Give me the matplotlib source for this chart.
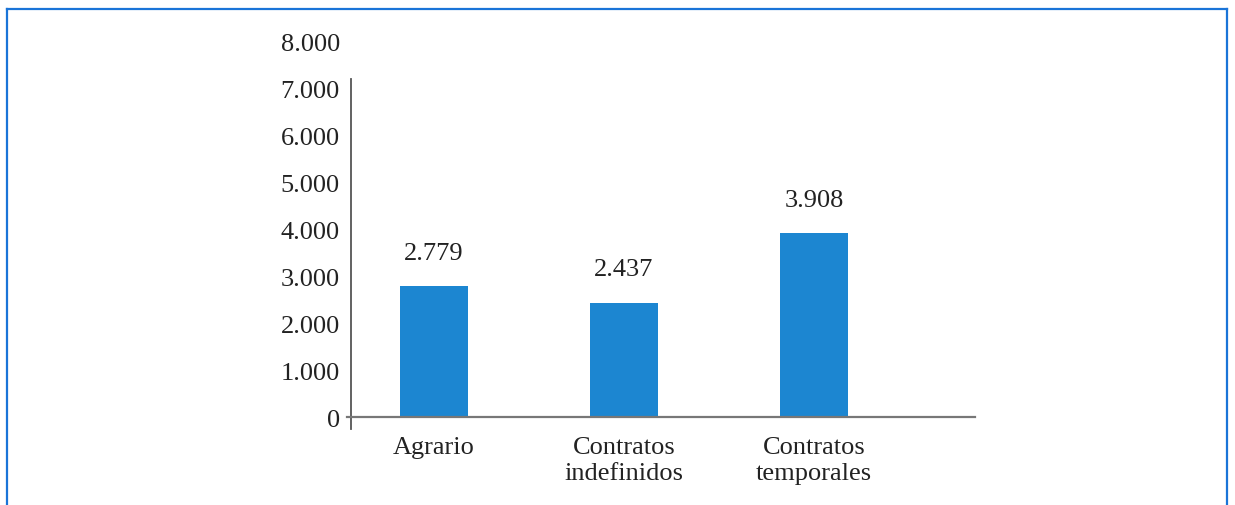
import matplotlib
matplotlib.use("Agg")
import matplotlib.pyplot as plt
from matplotlib.lines import Line2D

categories = ["Agrario", "Contratos\nindefinidos", "Contratos\ntemporales"]
values = [2779, 2437, 3908]
value_labels = ["2.779", "2.437", "3.908"]
yticks = [0, 1000, 2000, 3000, 4000, 5000, 6000, 7000, 8000]
ytick_labels = ["0", "1.000", "2.000", "3.000", "4.000", "5.000", "6.000", "7.000", "8.000"]

plt.rcParams['font.family'] = ['Liberation Serif', 'DejaVu Serif']
FS = 19

fig = plt.figure(figsize=(12.35, 5.06), dpi=100)
ax = fig.add_axes([0.2729, 0.146, 0.523, 0.780])

x = list(range(len(categories)))
ax.bar(x, values, width=0.36, color='#1c86d1', zorder=2)
for xi, v, lab in zip(x, values, value_labels):
    ax.annotate(lab, (xi, v), xytext=(0, 24), textcoords='offset points',
                ha='center', va='center', fontsize=FS, color='#222222')

ax.set_xlim(-0.5105, 2.8895)
ax.set_ylim(-300, 8100)
ax.set_yticks(yticks)
ax.set_yticklabels(ytick_labels)
ax.set_xticks(x)
ax.set_xticklabels(categories, linespacing=1.2)
ax.tick_params(axis='both', labelsize=FS, labelcolor='#222222')
ax.tick_params(axis='y', length=0, pad=8)
ax.tick_params(axis='x', length=0, pad=14)

for s in ['top', 'right']:
    ax.spines[s].set_visible(False)
ax.spines['left'].set_position(('data', -0.437))
ax.spines['left'].set_bounds(-255, 7190)
ax.spines['left'].set_color('#555555')
ax.spines['left'].set_linewidth(1.3)
ax.spines['bottom'].set_position(('data', 0))
ax.spines['bottom'].set_bounds(-0.458, 2.847)
ax.spines['bottom'].set_color('#777777')
ax.spines['bottom'].set_linewidth(1.6)

# blue frame
W, H = 1235, 506
c = '#1a74d8'
fig.add_artist(Line2D([7/W, 1227/W], [1-10/H, 1-10/H], color=c, lw=1.6, transform=fig.transFigure))
fig.add_artist(Line2D([7/W, 7/W], [1-10/H, 0], color=c, lw=1.6, transform=fig.transFigure))
fig.add_artist(Line2D([1227/W, 1227/W], [1-10/H, 0], color=c, lw=1.6, transform=fig.transFigure))

fig.savefig("out.png", dpi=100)
